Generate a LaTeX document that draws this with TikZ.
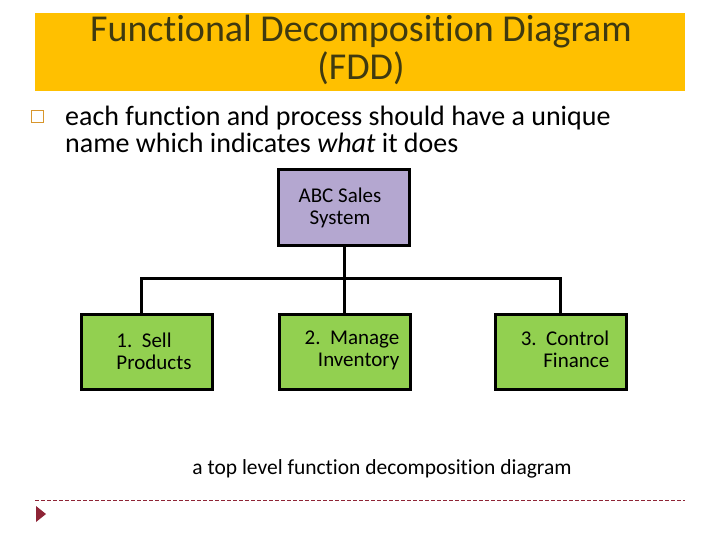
\documentclass[tikz,border=0pt]{standalone}
\usepackage{fontspec}
\setmainfont{Carlito}[RawFeature=-liga]
\definecolor{titlebg}{HTML}{FFC000}
\definecolor{titletx}{HTML}{3F3A10}
\definecolor{lav}{HTML}{B4A7D0}
\definecolor{grn}{HTML}{92D050}
\definecolor{dred}{HTML}{8E2436}
\definecolor{bulletc}{HTML}{D8962C}
\begin{document}
\begin{tikzpicture}[x=1pt,y=-1pt,
  fbox/.style={draw=black,line width=3pt,minimum width=131pt,minimum height=75pt,inner sep=0pt},
  boxtext/.style={font=\fontsize{21}{22}\selectfont,align=left},
  conn/.style={draw=black,line width=3pt}]
\useasboundingbox (0,0) rectangle (720,540);
% title band
\fill[titlebg] (35,13) rectangle (685,91);
\node[text=titletx,font=\fontsize{38}{38}\selectfont,align=center] (title) at (361,50) {Functional Decomposition Diagram\\(FDD)};
% bullet
\node[draw=bulletc,line width=0.9pt,minimum size=12pt,inner sep=0pt] (bul) at (37.5,116) {};
\node[anchor=west,font=\fontsize{28}{27}\selectfont,align=left,inner sep=0pt] (btext) at (65,129) {each function and process should have a unique\\name which indicates \textit{what} it does};
% boxes
\node[fbox,fill=lav] (abc) at (344,207.5) {};
\node[boxtext,align=center] (abct) at (340,208) {ABC Sales\\System};
\node[fbox,fill=grn] (sell) at (146.5,352) {};
\node[boxtext] (sellt) at (154,351) {1.\ \ Sell\\Products};
\node[fbox,fill=grn] (man) at (344.5,352) {};
\node[boxtext,align=right] (mant) at (352,350) {2.\ \ Manage\\Inventory};
\node[fbox,fill=grn] (ctl) at (560.5,352) {};
\node[boxtext,align=right] (ctlt) at (565,349) {3.\ \ Control\\Finance};
% connectors
\coordinate (j) at (344,278);
\coordinate (jl) at (141,278);
\coordinate (jr) at (560,278);
\draw[conn] (abc.south) -- (j);
\draw[conn,line cap=rect] (jl) -- (jr);
\draw[conn] (jl) -- (jl |- sell.north);
\draw[conn] (j) -- (j |- man.north);
\draw[conn] (jr) -- (jr |- ctl.north);
% caption
\node[font=\fontsize{21.5}{22}\selectfont] (cap) at (382,469) {a top level function decomposition diagram};
% footer
\draw[dred,dashed,dash pattern=on 4pt off 2pt,line width=0.7pt] (35,500) -- (685,500);
\fill[dred] (36,506) -- (46,514) -- (36,522) -- cycle;
\end{tikzpicture}
\end{document}
